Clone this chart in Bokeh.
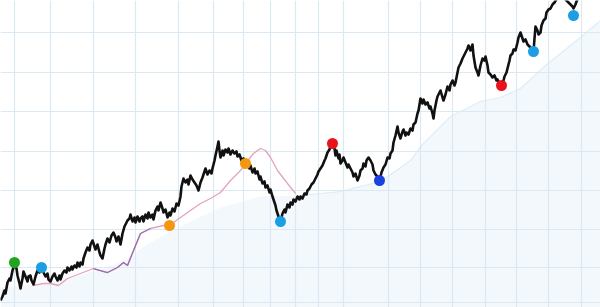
from bokeh.plotting import figure
from bokeh.models import Range1d, FixedTicker
from bokeh.embed import file_html
from bokeh.resources import INLINE

# ---- data (x = time position, y = price level) ----
price_x = [0,2,4,5,7,9,10,12,14,16,
           17,19,20,22,23,25,27,28,30,31,
           33,35,37,39,41,43,45,47,48,50,
           52,54,55,57,59,60,62,64,66,67,
           69,71,72,74,76,77,79,80,82,83,
           85,87,89,90,92,94,95,97,99,100,
           102,104,105,107,109,111,113,115,116,118,
           120,122,124,125,127,129,130,132,134,135,
           137,139,140,142,143,145,147,148,150,152,
           153,155,157,158,160,162,163,165,167,169,
           170,172,174,176,178,180,181,183,185,187,
           188,190,192,194,196,198,200,202,204,205,
           207,209,211,212,214,215,217,218,219,220,
           222,223,225,227,228,230,232,234,236,237,
           239,241,243,245,247,249,250,252,254,255,
           257,259,260,262,264,265,267,269,270,272,
           273,275,276,278,280,282,284,285,287,289,
           290,292,293,295,297,299,300,302,304,306,
           307,309,311,313,315,317,318,320,322,324,
           325,327,329,330,332,334,335,336,338,339,
           340,342,343,345,347,348,350,352,353,355,
           357,359,360,362,363,365,366,368,370,372,
           373,375,377,379,381,383,385,387,389,390,
           392,393,395,397,398,400,402,403,405,406,
           408,410,412,413,415,417,418,419,420,422,
           423,425,427,429,430,432,433,434,436,437,
           439,440,442,443,445,447,449,450,452,454,
           455,457,458,460,462,463,465,467,468,470,
           472,473,475,477,478,480,482,484,485,487,
           488,490,492,494,496,497,499,501,503,504,
           506,507,509,510,512,513,515,517,518,520,
           522,523,525,527,528,530,533,534,535,537,
           538,540,541,543,545,546,548,550,552,554,
           557,560,563,566,568,570,572,573,575,576,
           578,580]
price_py = [300,296,290,293,282,278,280,270,264,268,
            275,283,288,278,271,276,281,276,275,280,
            284,276,270,272,268,272,276,273,279,281,
            276,273,276,280,275,279,273,270,272,267,
            270,266,269,265,267,262,266,262,264,258,
            252,247,250,244,240,246,249,244,252,255,
            258,248,244,238,242,235,232,237,241,236,
            244,233,226,224,220,218,214,221,217,222,
            216,221,218,216,221,214,218,212,217,214,
            219,210,206,210,202,208,212,209,217,212,
            215,208,211,203,205,196,186,178,182,179,
            184,175,179,182,185,190,182,177,171,168,
            174,170,173,168,160,155,146,141,150,157,
            150,155,149,152,148,154,150,153,151,156,
            154,160,158,163,162,168,165,172,168,173,
            171,179,176,183,181,187,185,192,189,196,
            199,205,210,216,221,213,209,212,204,207,
            202,204,199,201,196,199,196,198,193,194,
            190,188,184,182,178,174,171,168,165,160,
            158,152,149,146,143,148,155,150,158,154,
            163,160,157,162,167,164,168,172,176,173,
            180,175,170,168,163,166,160,157,160,164,
            170,174,176,180,172,167,164,157,158,153,
            150,142,135,126,132,138,131,129,135,132,
            134,128,130,124,122,113,110,104,98,103,
            99,104,102,108,106,113,118,110,100,96,
            92,90,97,100,94,86,90,84,80,85,
            82,72,67,63,58,56,52,48,45,50,
            44,55,67,72,75,65,58,60,56,65,
            72,74,77,75,80,79,83,85,80,76,
            72,68,60,55,53,49,50,42,37,32,
            38,41,39,44,45,47,51,38,26,30,
            34,32,25,20,18,12,9,8,4,2,
            -3,-6,-3,0,2,4,6,8,4,1,
            -3,-6]
price_y = [307 - v for v in price_py]

avg_x = [32,43,50,58,67,80,93,107,117,123,127,133,140,150,163,169,180,190,200,210,220,230,240,245,253,260,265,270,277,287,295]
avg_py = [285,283,283,285,278,273,268,272,267,262,265,250,233,228,225,225,217,210,203,198,192,180,170,163,153,148,150,157,170,183,193]
avg_y = [307 - v for v in avg_py]

area_x = [0,40,80,120,150,180,220,260,300,340,380,410,420,450,480,500,520,545,570,600]
area_py = [287,284,275,262,242,226,207,196,195,191,181,160,146,116,101,97,88,65,45,20]
area_y = [307 - v for v in area_py]

mark_x = [14,41,169,245,280,332,379,501,533,573]
mark_py = [262,267,225,163,221,143,180,85,51,15]
mark_y = [307 - v for v in mark_py]
mark_c = ["#1fa51f","#1b9ee3","#f5960f","#f5960f","#1b9ee3","#e8121c","#1a42e0","#e8121c","#1b9ee3","#1b9ee3"]

grid_x = [14,50,93,135,178,213,243,270,295,318,343,388,420,452,485,516,548,581]
grid_py = [32,72,111,151,190,229,267,302]
grid_y = [307 - v for v in grid_py]

p = figure(width=600, height=307, output_backend="svg", toolbar_location=None,
           x_range=Range1d(0, 600), y_range=Range1d(0, 307), min_border=0)
p.outline_line_color = None
p.axis.visible = False
p.background_fill_color = "white"
p.xgrid.ticker = FixedTicker(ticks=grid_x)
p.ygrid.ticker = FixedTicker(ticks=grid_y)
p.grid.grid_line_color = "#dae9f2"
p.grid.grid_line_width = 1.2

p.varea(x=area_x, y1=0, y2=area_y, fill_color="#dcebf7", fill_alpha=0.33)
p.line(area_x[8:], area_y[8:], line_color="#d3e7f4", line_width=1.2, line_alpha=0.7)

p.line(avg_x, avg_y, line_color="#e6a2bd", line_width=1.3)
p.line(avg_x[6:14], avg_y[6:14], line_color="#9a6cb0", line_width=1.3)

p.line(price_x, price_y, line_color="#111111", line_width=2.6, line_join="round")

p.scatter(mark_x, mark_y, size=11, color=mark_c, line_color=None)

open("out.html", "w").write(file_html(p, INLINE))
